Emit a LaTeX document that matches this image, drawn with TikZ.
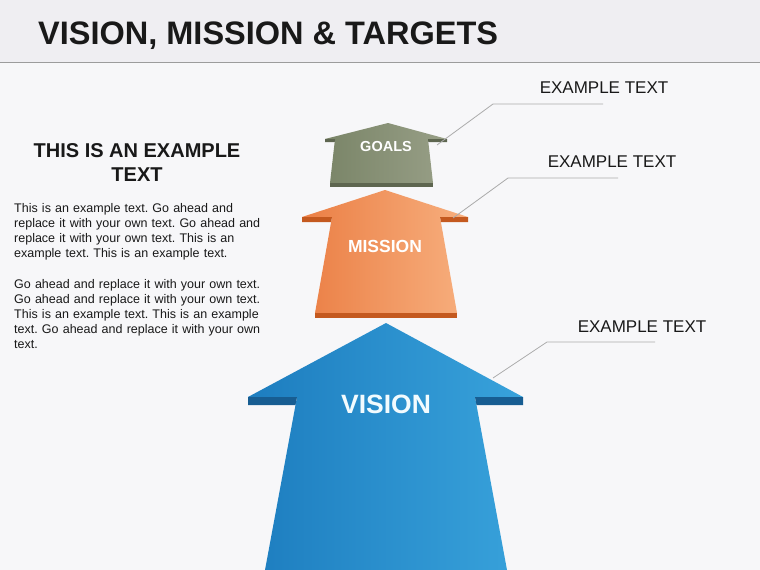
\documentclass[tikz,border=0pt]{standalone}
\usepackage{fontspec}
\setmainfont{Liberation Sans}
\setlength{\parindent}{0pt}
\frenchspacing

\definecolor{pagebg}{HTML}{F7F7F9}
\definecolor{headbg}{HTML}{EFEEF2}
\definecolor{headline}{HTML}{9C9C9C}
\definecolor{callgray}{HTML}{ABABAB}
\definecolor{goalsL}{HTML}{7A8568}
\definecolor{goalsR}{HTML}{989F87}
\definecolor{goalsE}{HTML}{5E6650}
\definecolor{missionL}{HTML}{EB7F45}
\definecolor{missionR}{HTML}{F7AF7E}
\definecolor{missionE}{HTML}{C4591F}
\definecolor{visionL}{HTML}{1D7DBF}
\definecolor{visionR}{HTML}{38A2DB}
\definecolor{visionE}{HTML}{175D92}

\tikzset{
  callout/.style={draw=callgray, line width=0.8pt},
  calltext/.style={font=\fontsize{17}{20}\selectfont, text=black!90, inner sep=0pt},
  arrowtext/.style={font=\bfseries, text=white, inner sep=0pt}
}

\begin{document}
\begin{tikzpicture}[x=1pt,y=-1pt]

\useasboundingbox (0,0) rectangle (760,570);
\fill[pagebg] (0,0) rectangle (760,570);

% header
\fill[headbg] (0,0) rectangle (760,62);
\draw[headline, line width=1.5pt] (0,62.5) -- (760,62.5);
\node (title) [anchor=base west, inner sep=0pt, font=\fontsize{32.5}{36}\selectfont\bfseries, text=black!90]
  at (38,44) {VISION, MISSION \& TARGETS};

% left column
\node (heading) [align=center, inner sep=0pt, font=\fontsize{20}{24}\selectfont\bfseries, text=black!90]
  at (137,163) {THIS IS AN EXAMPLE\\TEXT};
\node (body) [anchor=north west, inner sep=0pt, text width=245pt,
  font=\fontsize{12.5}{15}\selectfont, text=black!90] at (14,203) {%
\makebox[\linewidth][s]{This is an example text. Go ahead and}\\
\makebox[\linewidth][s]{replace it with your own text. Go ahead and}\\
\makebox[\linewidth][s]{replace it with your own text. This is an}\\
example text. This is an example text.\\[16pt]
\makebox[\linewidth][s]{Go ahead and replace it with your own text.}\\
\makebox[\linewidth][s]{Go ahead and replace it with your own text.}\\
\makebox[\linewidth][s]{This is an example text. This is an example}\\
\makebox[\linewidth][s]{text. Go ahead and replace it with your own}\\
text.};

% vision arrow
\shade[left color=visionL, right color=visionR]
  (386,323) -- (523,397) -- (475,397) -- (507,570) -- (265,570) -- (297,397) -- (248,397) -- cycle;
\fill[visionE] (523,397) -- (523,405) -- (476.5,405) -- (475,397) -- cycle;
\fill[visionE] (248,397) -- (248,405) -- (295.5,405) -- (297,397) -- cycle;
\node (vision) [arrowtext, font=\fontsize{26.5}{30}\selectfont\bfseries, text=white!95!cyan] at (386,404) {VISION};

% mission arrow
\shade[left color=missionL, right color=missionR]
  (385,190) -- (468,217) -- (440,217) -- (457,313) -- (315,313) -- (332,217) -- (302,217) -- cycle;
\fill[missionE] (468,217) -- (468,222) -- (441,222) -- (440,217) -- cycle;
\fill[missionE] (302,217) -- (302,222) -- (331,222) -- (332,217) -- cycle;
\fill[missionE] (315,313) -- (457,313) -- (457,318) -- (315,318) -- cycle;
\node (mission) [arrowtext, font=\fontsize{17.5}{20}\selectfont\bfseries] at (385,246) {MISSION};

% goals arrow
\shade[left color=goalsL, right color=goalsR]
  (388,123) -- (447,139) -- (428,139) -- (433,183) -- (330,183) -- (335,139) -- (325,139) -- cycle;
\fill[goalsE] (447,139) -- (447,142) -- (428.3,142) -- (428,139) -- cycle;
\fill[goalsE] (325,139) -- (325,142) -- (334.7,142) -- (335,139) -- cycle;
\fill[goalsE] (330,183) -- (433,183) -- (433,187) -- (330,187) -- cycle;
\node (goals) [arrowtext, font=\fontsize{14.5}{17}\selectfont\bfseries] at (386,147) {GOALS};

% callouts
\coordinate (goalsPin) at (437,145);
\coordinate (goalsBend) at (493,104);
\coordinate (goalsEnd) at (603,104);
\node (goalsNote) [calltext] at (604,88) {EXAMPLE TEXT};
\draw[callout] (goalsPin) -- (goalsBend) -- (goalsEnd);

\coordinate (missionPin) at (453,218);
\coordinate (missionBend) at (508,178);
\coordinate (missionEnd) at (618,178);
\node (missionNote) [calltext] at (612,162) {EXAMPLE TEXT};
\draw[callout] (missionPin) -- (missionBend) -- (missionEnd);

\coordinate (visionPin) at (493,378);
\coordinate (visionBend) at (547,342);
\coordinate (visionEnd) at (655,342);
\node (visionNote) [calltext] at (642,327) {EXAMPLE TEXT};
\draw[callout] (visionPin) -- (visionBend) -- (visionEnd);

\end{tikzpicture}
\end{document}
